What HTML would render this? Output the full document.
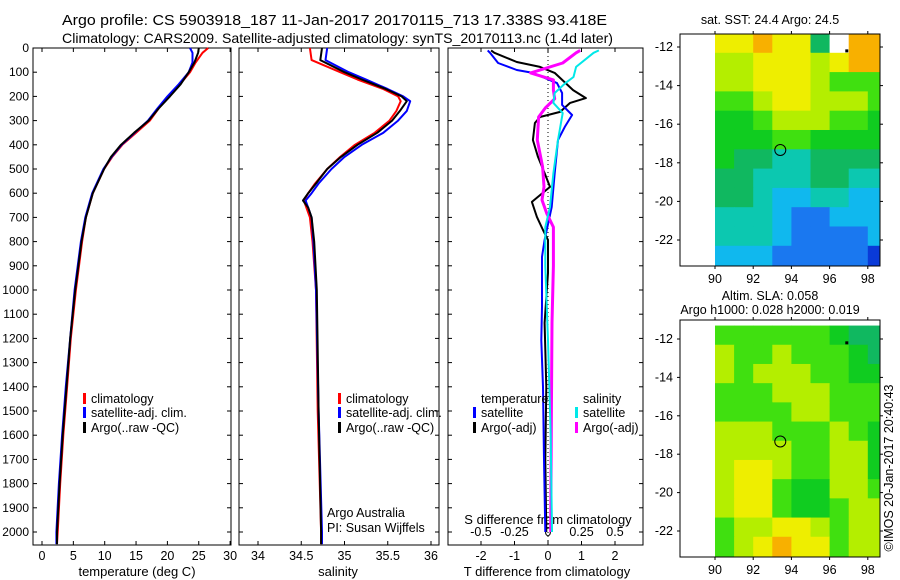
<!DOCTYPE html>
<html><head><meta charset="utf-8"><style>
html,body{margin:0;padding:0;background:#fff}
svg{display:block;font-family:"Liberation Sans",Arial,sans-serif}
text{fill:#000}
</style></head><body>
<svg id="c" width="900" height="580" viewBox="0 0 900 580" xmlns="http://www.w3.org/2000/svg">
<text x="62" y="25" font-size="14.5" textLength="545" lengthAdjust="spacingAndGlyphs">Argo profile: CS 5903918_187 11-Jan-2017 20170115_713 17.338S 93.418E</text>
<text x="62" y="43" font-size="14" textLength="551" lengthAdjust="spacingAndGlyphs">Climatology: CARS2009. Satellite-adjusted climatology: synTS_20170113.nc (1.4d later)</text>
<g id="g"></g>
</svg>
<script>
// ---- profile data (pressure in dbar) ----
const tP = [0,20,60,100,150,200,250,300,350,400,450,500,600,700,800,1000,1200,1400,1600,1800,2000,2050];
const tClim = [26.5,25.6,24.5,23.6,22.0,20.2,18.6,17.2,15.0,12.8,11.2,9.9,8.1,7.0,6.4,5.4,4.6,4.0,3.4,2.9,2.5,2.4];
const tSat = [23.6,24.0,24.0,23.4,21.8,20.0,18.4,16.9,14.8,12.7,11.1,9.8,8.0,6.9,6.2,5.2,4.5,3.8,3.2,2.7,2.3,2.3];
const tArgo = [25.0,24.9,24.3,23.4,22.1,20.4,18.6,17.0,14.7,12.6,11.0,9.9,8.1,7.0,6.3,5.3,4.5,3.9,3.3,2.8,2.4,2.4];
const sP = [0,50,100,130,170,200,220,260,300,350,400,450,500,560,600,630,660,700,800,1000,1500,2000,2050];
const sClim = [34.60,34.62,34.95,35.15,35.45,35.62,35.65,35.60,35.52,35.35,35.12,34.95,34.80,34.66,34.58,34.53,34.56,34.60,34.63,34.67,34.69,34.73,34.73];
const sSat = [34.80,34.78,35.05,35.25,35.50,35.68,35.76,35.72,35.62,35.45,35.20,35.00,34.85,34.70,34.62,34.55,34.58,34.62,34.64,34.67,34.70,34.74,34.74];
const sArgo = [34.74,34.72,35.00,35.20,35.48,35.66,35.72,35.64,35.55,35.38,35.15,34.96,34.80,34.67,34.58,34.52,34.58,34.62,34.65,34.68,34.70,34.73,34.73];
// differences
const dTP = [10,20,58,78,103,174,207,227,264,285,310,380,450,517,574,636,698,752,793,930,1136,1400,1700,2000];
const dTArgo = [-1.7,-1.6,-0.93,-0.24,0.2,0.75,1.13,0.66,0.36,-0.24,-0.39,-0.45,-0.3,-0.1,0.06,-0.48,-0.33,-0.15,0,0,-0.1,-0.05,-0.08,-0.05];
const dSP = [10,20,62,91,103,145,186,235,277,326,380,517,657,793,863,1070,1207,1400,1700,2000];
const dTSat = [-1.8,-1.73,-1.49,-0.93,-0.45,0.27,0.42,0.42,0.72,0.5,0.3,0.2,0.11,-0.1,-0.18,-0.18,-0.2,-0.15,-0.12,-0.08];
const dS2P = [10,20,78,120,145,186,227,269,380,517,657,740,900,1207,1600,2000];
const dSSat = [0.38,0.34,0.21,0.19,0.13,0.05,0.04,0.11,0.075,0.04,0.015,-0.02,-0.02,0,0.02,0.03];
const dSAP = [10,20,62,103,132,174,210,248,285,380,491,574,628,683,740,900,1136,1500,2000];
const dSArgo = [0.24,0.21,0.11,-0.13,0.04,0.04,0.05,-0.02,-0.07,-0.08,-0.04,-0.03,-0.045,-0.01,0.04,0.04,0.03,0.025,0.02];
// map grids (1 deg cells, lon 90..99, lat from -11.3 downward), colour level 0=blank
const sstGrid = [
[9,9,10,9,9,5,0,10,10],[8,8,9,9,9,8,9,10,10],[8,8,9,9,9,8,7,7,7],[7,7,8,9,9,8,8,8,7],
[6,6,7,8,8,8,7,7,6],[6,6,6,7,7,6,6,6,6],[6,5,5,4,4,5,5,5,5],[5,5,4,4,4,5,5,4,4],
[5,5,4,3,3,4,4,3,3],[4,4,4,3,2,2,3,3,3],[4,4,4,3,2,2,2,2,3],[3,3,3,2,2,2,2,2,1]];
const slaGrid = [
[7,7,7,7,7,7,6,5,5],[8,7,7,8,7,7,7,6,5],[8,7,8,8,8,7,7,6,6],[7,7,7,8,8,8,7,7,7],
[7,7,7,7,8,8,7,7,7],[8,8,8,7,7,7,8,7,6],[8,8,8,8,7,7,8,8,6],[8,9,9,8,7,7,8,8,6],
[8,9,9,7,6,6,8,8,7],[8,9,9,7,6,6,7,8,8],[7,8,8,9,9,8,7,8,8],[7,8,9,10,9,9,7,8,8]];
const palette = ["#ffffff","#0a3ad8","#1a78f0","#10b8ee","#0cc8b0","#10b860","#10cc20","#40e010","#b4ee00","#eeee00","#f8b000"];

const NS="http://www.w3.org/2000/svg", G=document.getElementById('g');
function el(tag, attrs, parent){const e=document.createElementNS(NS,tag);for(const k in attrs)e.setAttribute(k,attrs[k]);(parent||G).appendChild(e);return e;}
function txt(x,y,s,anchor,size,name,parent){const t=el('text',{x:x,y:y,'font-size':size||12,'text-anchor':anchor||'start'},parent);t.textContent=s;


return t;}

const TOP=48, PXP=0.242, BOT=545;
const yP = p => TOP + p*PXP;
const panels = [{x0:33,x1:231},{x0:239,x1:439},{x0:448,x1:643}];
const xT = v => 42 + v*6.27;
const xS = v => 258 + (v-34)*86.5;
const xDT = v => 548 + v*33.5;
const xDS = v => 548 + v*134;

// frames
panels.forEach((p,i)=>{
  const r=el('rect',{x:p.x0,y:TOP,width:p.x1-p.x0,height:BOT-TOP,fill:'none',stroke:'#000','stroke-width':1});
  
  
  for(let d=0; d<=2000; d+=100){
    const y=yP(d);
    el('line',{x1:p.x0,y1:y,x2:p.x0+4,y2:y,stroke:'#000'});
    el('line',{x1:p.x1,y1:y,x2:p.x1-4,y2:y,stroke:'#000'});
  }
});
for(let d=0; d<=2000; d+=100) txt(29, yP(d)+4, String(d), 'end', 12, 'y-tick-label');

function xTicks(vals, labels, fx, p, name){
  vals.forEach((v,i)=>{const x=fx(v);
    el('line',{x1:x,y1:BOT,x2:x,y2:BOT-4,stroke:'#000'});
    el('line',{x1:x,y1:TOP,x2:x,y2:TOP+4,stroke:'#000'});
    txt(x, 560, labels[i], 'middle', 12.5, name);
  });
}
const tTicks=[0,5,10,15,20,25,30], sTicks=[34,34.5,35,35.5,36], dTicks=[-2,-1,0,1,2], dsTicks=[-0.5,-0.25,0,0.25,0.5];
xTicks(tTicks, tTicks.map(String), xT, panels[0], 'temperature-tick-label');
xTicks(sTicks, ['34','34.5','35','35.5','36'], xS, panels[1], 'salinity-tick-label');
xTicks(dTicks, dTicks.map(String), xDT, panels[2], 'tdiff-tick-label');
dsTicks.forEach((v,i)=>{txt(xDS(v), 536, ['-0.5','-0.25','0','0.25','0.5'][i], 'middle', 12.5, 'sdiff-tick-label');});
txt(137,576,'temperature (deg C)','middle',13,'x-axis-title-temperature');
txt(338,576,'salinity','middle',13,'x-axis-title-salinity');
txt(547,576,'T difference from climatology','middle',13,'x-axis-title-tdiff');
txt(548,524,'S difference from climatology','middle',13,'sdiff-axis-title');

// zero dotted line panel 3
el('line',{x1:548,y1:TOP,x2:548,y2:BOT,stroke:'#000','stroke-dasharray':'1,3'});

function series(P,V,fx,color,w,name,dash){
  const pts=P.map((p,i)=>fx(V[i]).toFixed(1)+','+yP(p).toFixed(1)).join(' ');
  const l=el('polyline',{points:pts,fill:'none',stroke:color,'stroke-width':w,'stroke-linejoin':'round'});
  if(dash) l.setAttribute('stroke-dasharray',dash);
  
  
}
series(tP,tClim,xT,'#ff0000',2,'temperature-climatology-line');
series(tP,tSat,xT,'#0000ff',2,'temperature-satellite-line');
series(tP,tArgo,xT,'#000000',2,'temperature-argo-line');
series(sP,sClim,xS,'#ff0000',2,'salinity-climatology-line');
series(sP,sSat,xS,'#0000ff',2,'salinity-satellite-line');
series(sP,sArgo,xS,'#000000',2,'salinity-argo-line');
series(dTP,dTArgo,xDT,'#000000',2,'tdiff-argo-line');
series(dSP,dTSat,xDT,'#0000ff',2,'tdiff-satellite-line');
series(dSAP,dSArgo,xDS,'#ff00ff',3,'sdiff-argo-line');
series(dS2P,dSSat,xDS,'#00e8e8',2,'sdiff-satellite-line');

// legends
function leg(x,y,color,label,name){
  const r=el('rect',{x:x,y:y-10,width:3,height:11,fill:color});
  
  
  txt(x+8,y,label,'start',12.5,name);
}
[[83,'temperature'],[338,'salinity']].forEach(([x,k])=>{
  leg(x,403,'#ff0000','climatology',k+'-legend-climatology');
  leg(x,417,'#0000ff','satellite-adj. clim.',k+'-legend-satellite');
  leg(x,432,'#000000','Argo(..raw -QC)',k+'-legend-argo');
});
txt(481,403,'temperature','start',12.5,'legend-header-temperature');
txt(583,403,'salinity','start',12.5,'legend-header-salinity');
leg(473,417,'#0000ff','satellite','tdiff-legend-satellite');
leg(473,432,'#000000','Argo(-adj)','tdiff-legend-argo');
leg(575,417,'#00e8e8','satellite','sdiff-legend-satellite');
leg(575,432,'#ff00ff','Argo(-adj)','sdiff-legend-argo');
txt(327,517,'Argo Australia','start',12.5,'credit-argo-australia');
txt(327,532,'PI: Susan Wijffels','start',12.5,'credit-pi');

// maps
function drawMap(grid, fy, fyTop, fyBot, name){
  const X0=680,X1=880, lonX=l=>715+(l-90)*19.1;
  const latY=lat=>fy(lat);
  const cp=el('clipPath',{id:'cp-'+name});
  el('rect',{x:X0,y:fyTop,width:X1-X0,height:fyBot-fyTop},cp);
  const gg=el('g',{'clip-path':'url(#cp-'+name+')'});
  
  
  grid.forEach((row,r)=>row.forEach((v,c)=>{
    const y0=latY(-11.3-r), y1=latY(-12.3-r);
    const cell=el('rect',{x:lonX(90+c),y:y0,width:19.6,height:y1-y0+0.6,fill:palette[v]},gg);
    
    
  }));
  const f=el('rect',{x:X0,y:fyTop,width:X1-X0,height:fyBot-fyTop,fill:'none',stroke:'#000'});
  
  
  [90,92,94,96,98].forEach(l=>{const x=lonX(l);
    el('line',{x1:x,y1:fyTop,x2:x,y2:fyTop-3,stroke:'#000'});
    el('line',{x1:x,y1:fyBot,x2:x,y2:fyBot+3,stroke:'#000'});
    txt(x,fyBot+17,String(l),'middle',12.5,name+'-lon-label');});
  [-12,-14,-16,-18,-20,-22].forEach(l=>{const y=latY(l);
    el('line',{x1:X0,y1:y,x2:X0-3,y2:y,stroke:'#000'});
    el('line',{x1:X1,y1:y,x2:X1+3,y2:y,stroke:'#000'});
    txt(X0-7,y+4,String(l),'end',12.5,name+'-lat-label');});
  const c=el('circle',{cx:lonX(93.418),cy:latY(-17.338),r:5.5,fill:'none',stroke:'#000','stroke-width':1});
  
  
  el('rect',{x:lonX(96.9)-1.5,y:latY(-12.2)-1.5,width:3,height:3,fill:'#000'});
}
drawMap(sstGrid, lat=>47+(-12-lat)*19.3, 34, 266, 'sst-map');
drawMap(slaGrid, lat=>339+(-12-lat)*19.2, 320, 557, 'sla-map');
txt(770,24,'sat. SST: 24.4  Argo: 24.5','middle',12.5,'sst-map-title');
txt(770,300,'Altim. SLA: 0.058','middle',12.5,'sla-map-title');
txt(770,314,'Argo h1000: 0.028 h2000: 0.019','middle',12.5,'sla-map-subtitle');
const cr=txt(0,0,'©IMOS 20-Jan-2017 20:40:43','middle',12.5,'imos-credit');
cr.setAttribute('transform','translate(893,468) rotate(-90)');
</script>
</body></html>
